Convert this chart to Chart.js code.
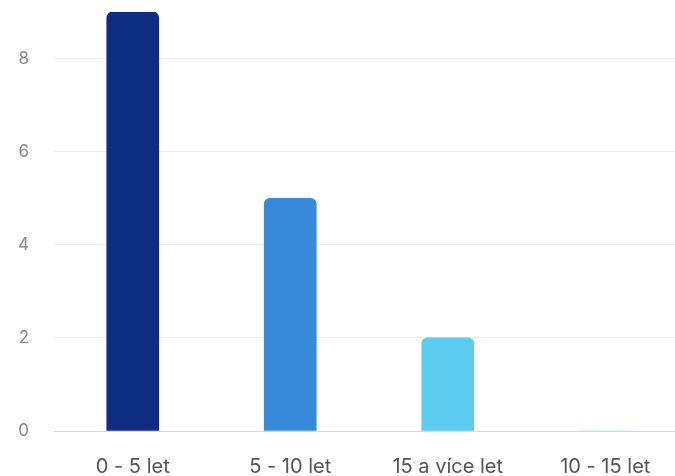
<!DOCTYPE html>
<html>
<head>
<meta charset="utf-8">
<script src="https://cdn.jsdelivr.net/npm/chart.js@4"></script>
<style>
  html, body { margin: 0; padding: 0; background: #fff; overflow: hidden; }
  #wrap { width: 692px; height: 476px; }
</style>
</head>
<body>
<div id="wrap"><canvas id="graf" width="692" height="476"></canvas></div>
<script>
// categories and counts
const kategorie = ['0 - 5 let', '5 - 10 let', '15 a v\u00edce let', '10 - 15 let'];
const pocty = [9, 5, 2, 0];
const barvy = ['#0f2d80', '#368ad9', '#5bcbee', '#5bcbee'];
const popiskyY = [0, 2, 4, 6, 8];

window.onload = function() {
  let ctx = document.getElementById('graf').getContext('2d');
  new Chart(ctx, {
    type: 'bar',
    data: {
      labels: kategorie,
      datasets: [{
        data: pocty,
        backgroundColor: barvy,
        borderRadius: 6,
        borderSkipped: 'start',
        barThickness: 52
      }]
    },
    options: {
      responsive: false,
      animation: false,
      layout: { padding: { top: 12, right: 8, left: 0, bottom: 0 } },
      plugins: { legend: { display: false }, tooltip: { enabled: false } },
      scales: {
        x: {
          grid: { display: false, drawTicks: false },
          border: { display: true, color: '#d6d8e0', width: 1 },
          ticks: {
            color: '#555',
            padding: 24,
            font: { family: 'Inter', size: 20 }
          },
          afterFit: function(axis) {
            axis.height = 45;
            axis.paddingLeft = 0;
            axis.paddingRight = 0;
          }
        },
        y: {
          min: 0,
          max: 9,
          afterBuildTicks: function(axis) {
            axis.ticks = popiskyY.map(v => ({ value: v }));
          },
          grid: { color: '#ececec', drawTicks: false },
          border: { display: false },
          ticks: {
            color: '#888',
            padding: 25,
            font: { family: 'Inter', size: 17 }
          },
          afterFit: function(axis) {
            axis.width = 54;
            axis.paddingTop = 0;
            axis.paddingBottom = 0;
          }
        }
      }
    }
  });
};
</script>
</body>
</html>
